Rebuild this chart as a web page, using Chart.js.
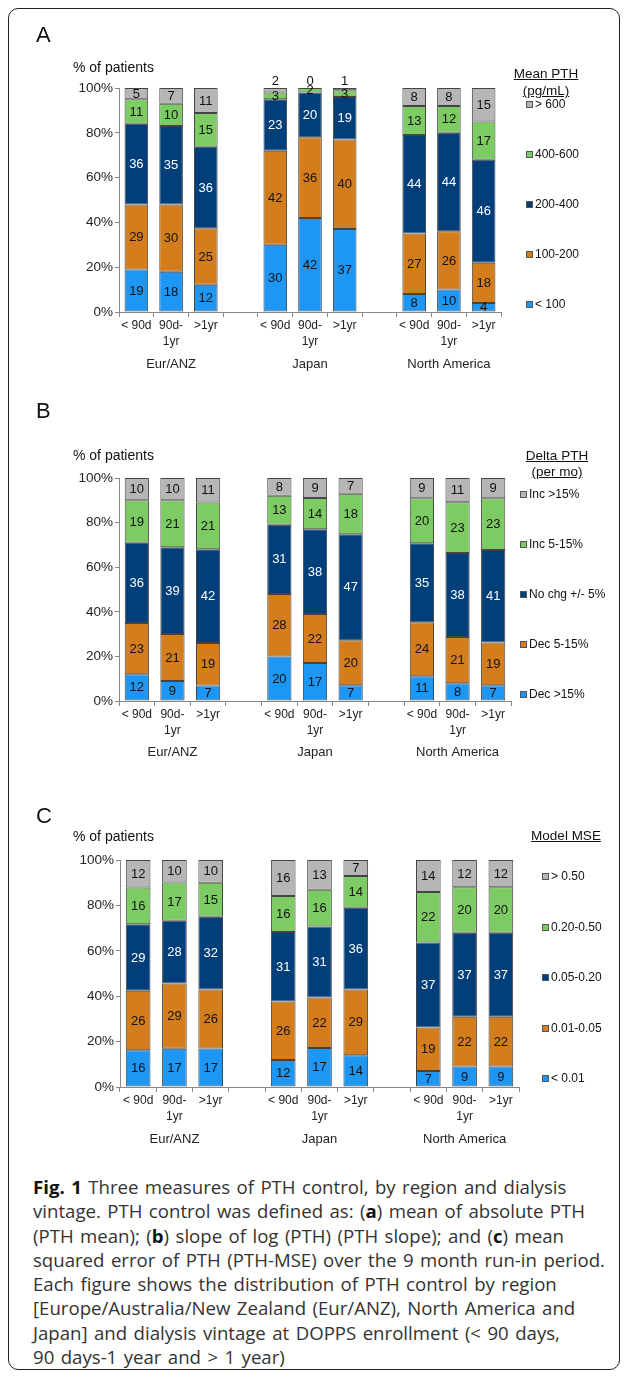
<!DOCTYPE html>
<html><head><meta charset="utf-8">
<script src="https://cdn.jsdelivr.net/npm/chart.js@4.4.0/dist/chart.umd.min.js"></script>
<style>
html,body{margin:0;padding:0;background:#fff;}
body{width:627px;height:1377px;position:relative;overflow:hidden;font-family:"Liberation Sans",Arial,sans-serif;color:#111;}
.frame{position:absolute;left:8px;top:8px;width:612px;height:1362px;border:1.4px solid #222;border-radius:10px;box-sizing:border-box;}
canvas{position:absolute;left:0;}
.t{position:absolute;white-space:nowrap;color:#111;}
.letter{font-size:22px;line-height:22px;}
.ylab{font-size:14px;line-height:14px;}
.lt{font-size:13.5px;line-height:16px;text-decoration:underline;text-align:center;transform:translateX(-50%);}
.li{font-size:12px;line-height:12px;}
.sw{display:inline-block;width:7px;height:7px;border:1px solid #555;margin-right:2px;vertical-align:0px;box-sizing:border-box;}
.cap{position:absolute;left:33px;width:585px;font-family:"Open Sans",sans-serif;font-size:17.5px;color:#333;word-spacing:1.6px;}
.cap div{height:24.3px;line-height:24.3px;text-align:left;white-space:nowrap;}
.cap b{color:#111;}
</style></head><body>
<div class="frame"></div>
<canvas id="cA" width="627" height="380" style="top:0px"></canvas>
<canvas id="cB" width="627" height="390" style="top:380px"></canvas>
<canvas id="cC" width="627" height="390" style="top:770px"></canvas>
<div id="overlay"></div>
<div class="cap" id="caption" style="top:1175px">
<div><b>Fig. 1</b> Three measures of PTH control, by region and dialysis</div>
<div>vintage. PTH control was defined as: (<b>a</b>) mean of absolute PTH</div>
<div>(PTH mean); (<b>b</b>) slope of log (PTH) (PTH slope); and (<b>c</b>) mean</div>
<div id="capRef">squared error of PTH (PTH-MSE) over the 9 month run-in period.</div>
<div>Each figure shows the distribution of PTH control by region</div>
<div>[Europe/Australia/New Zealand (Eur/ANZ), North America and</div>
<div>Japan] and dialysis vintage at DOPPS enrollment (&lt; 90 days,</div>
<div>90 days-1 year and &gt; 1 year)</div>
</div>
<script>
// ---------- DATA ----------
const regions = ['Eur/ANZ', 'Japan', 'North America'];
const vintages = [['< 90d'], ['90d-', '1yr'], ['>1yr']];
const yTicks = [0, 20, 40, 60, 80, 100];

// Panel A: Mean PTH (pg/mL) — per region: <90d, 90d-1yr, >1yr
const meanTitle = ['Mean PTH', '(pg/mL)'];
const meanLabels = ['< 100', '100-200', '200-400', '400-600', '> 600'];
const meanLt100   = [19, 18, 12, 30, 42, 37, 8, 10, 4];
const mean100_200 = [29, 30, 25, 42, 36, 40, 27, 26, 18];
const mean200_400 = [36, 35, 36, 23, 20, 19, 44, 44, 46];
const mean400_600 = [11, 10, 15, 3, 2, 3, 13, 12, 17];
const meanGt600   = [5, 7, 11, 2, 0, 1, 8, 8, 15];

// Panel B: Delta PTH (per mo)
const deltaTitle = ['Delta PTH', '(per mo)'];
const deltaLabels = ['Dec >15%', 'Dec 5-15%', 'No chg +/- 5%', 'Inc 5-15%', 'Inc >15%'];
const deltaDec15 = [12, 9, 7, 20, 17, 7, 11, 8, 7];
const deltaDec5  = [23, 21, 19, 28, 22, 20, 24, 21, 19];
const deltaNoChg = [36, 39, 42, 31, 38, 47, 35, 38, 41];
const deltaInc5  = [19, 21, 21, 13, 14, 18, 20, 23, 23];
const deltaInc15 = [10, 10, 11, 8, 9, 7, 9, 11, 9];

// Panel C: Model MSE
const mseTitle = ['Model MSE'];
const mseLabels = ['< 0.01', '0.01-0.05', '0.05-0.20', '0.20-0.50', '> 0.50'];
const mseLt001   = [16, 17, 17, 12, 17, 14, 7, 9, 9];
const mse001_005 = [26, 29, 26, 26, 22, 29, 19, 22, 22];
const mse005_020 = [29, 28, 32, 31, 31, 36, 37, 37, 37];
const mse020_050 = [16, 17, 15, 16, 16, 14, 22, 20, 20];
const mseGt050   = [12, 10, 10, 16, 13, 7, 14, 12, 12];

// ---------- STYLE ----------
const COLORS = ['#1e96f3', '#d47d1c', '#003f7a', '#7dcb63', '#b6b6b6'];
const FONT = '"Liberation Sans", Arial, sans-serif';

// caption: fit the longest line to the reference width
(function fitCaption() {
  const el = document.getElementById('capRef');
  const cap = document.getElementById('caption');
  const span = document.createElement('span');
  span.textContent = el.textContent;
  span.style.whiteSpace = 'nowrap';
  el.textContent = '';
  el.appendChild(span);
  const natural = span.getBoundingClientRect().width;
  if (natural > 0) cap.style.fontSize = (17.5 * 573 / natural).toFixed(2) + 'px';
})();

function withGaps(arr) {
  const out = [];
  for (let r = 0; r < regions.length; r++) {
    out.push(...arr.slice(r * 3, r * 3 + 3));
    if (r < regions.length - 1) out.push(null);
  }
  return out;
}
const catLabels = [];
const regionLabels = [];
regions.forEach((reg, r) => {
  vintages.forEach((v, k) => { catLabels.push(v); regionLabels.push(k === 1 ? reg : ''); });
  if (r < regions.length - 1) { catLabels.push(''); regionLabels.push(''); }
});

const segLabels = {
  id: 'segLabels',
  afterDatasetsDraw(chart) {
    const ctx = chart.ctx;
    ctx.save();
    ctx.font = '13px ' + FONT;
    ctx.textAlign = 'center';
    ctx.textBaseline = 'middle';
    const n = chart.data.datasets.length;
    chart.data.datasets.forEach((ds, i) => {
      const meta = chart.getDatasetMeta(i);
      meta.data.forEach((el, j) => {
        const raw = ds.rawValues[j];
        if (raw == null) return;
        const top = Math.min(el.y, el.base), bot = Math.max(el.y, el.base);
        let y = (top + bot) / 2;
        if (i === n - 1 && bot - top < 8) y = top - 7;
        ctx.fillStyle = i === 2 ? '#ffffff' : '#111111';
        ctx.fillText(String(raw), el.x, y + 0.5);
      });
    });
    ctx.restore();
  }
};

function makePanel(id, series, seriesLabels, g) {
  const raw = series.map(withGaps);
  const totals = raw[0].map((_, j) => raw.reduce((s, a) => s + (a[j] || 0), 0));
  const datasets = raw.map((a, i) => ({
    label: seriesLabels[i],
    data: a.map((v, j) => v == null ? null : v / totals[j] * 100),
    rawValues: a,
    backgroundColor: COLORS[i],
    borderColor: '#444444',
    borderWidth: 1,
    borderSkipped: false,
    barPercentage: 0.68,
    categoryPercentage: 1.0
  }));
  const canvas = document.getElementById(id);
  const H = canvas.height;
  return new Chart(canvas, {
    type: 'bar',
    data: { labels: catLabels, datasets },
    plugins: [segLabels],
    options: {
      responsive: false, animation: false, devicePixelRatio: 1,
      layout: { padding: { left: 0, top: g.top, right: 627 - g.right, bottom: H - g.bottom - 62 } },
      plugins: { legend: { display: false }, tooltip: { enabled: false }, title: { display: false } },
      scales: {
        x: {
          stacked: true, offset: true, weight: 1,
          grid: { display: true, drawOnChartArea: false, drawTicks: true, tickLength: 5, offset: true, color: '#888' },
          border: { display: true, color: '#888' },
          ticks: { font: { family: FONT, size: 12, lineHeight: 1.3 }, color: '#222', padding: 1, maxRotation: 0, autoSkip: false },
          afterFit: s => { s.height = 40; }
        },
        x2: {
          type: 'category', labels: regionLabels, position: 'bottom', offset: true, weight: 2,
          grid: { display: false, drawTicks: false },
          border: { display: false },
          ticks: { font: { family: FONT, size: 13 }, color: '#222', padding: g.regPad, maxRotation: 0, autoSkip: false },
          afterFit: s => { s.height = 22; }
        },
        y: {
          stacked: true, min: 0, max: 100,
          afterBuildTicks: s => { s.ticks = yTicks.map(v => ({ value: v })); },
          grid: { display: true, drawOnChartArea: false, drawTicks: true, tickLength: 4, color: '#888' },
          border: { display: true, color: '#888' },
          ticks: { font: { family: FONT, size: 13.5 }, color: '#222', padding: 2, callback: v => v + '%' },
          afterFit: s => { s.width = g.left; }
        }
      }
    }
  });
}

makePanel('cA', [meanLt100, mean100_200, mean200_400, mean400_600, meanGt600], meanLabels,
  { top: 88, bottom: 312, left: 119, right: 501, regPad: 5 });
makePanel('cB', [deltaDec15, deltaDec5, deltaNoChg, deltaInc5, deltaInc15], deltaLabels,
  { top: 98, bottom: 321, left: 119, right: 511, regPad: 4 });
makePanel('cC', [mseLt001, mse001_005, mse005_020, mse020_050, mseGt050], mseLabels,
  { top: 90, bottom: 317, left: 120, right: 519, regPad: 5 });

// ---------- TEXT OVERLAYS (panel letters, axis captions, legends) ----------
const ov = document.getElementById('overlay');
function txt(cls, html, x, y, extra) {
  const d = document.createElement('div');
  d.className = 't ' + cls;
  d.innerHTML = html;
  d.style.left = x + 'px';
  d.style.top = y + 'px';
  if (extra) Object.assign(d.style, extra);
  ov.appendChild(d);
  return d;
}
const panels = [
  { letter: 'A', ly: 35, py: 67, title: meanTitle, tx: 546, ty: [74, 91], labels: meanLabels, sx: 526, iy: [104, 154, 204, 254, 304] },
  { letter: 'B', ly: 411, py: 455, title: deltaTitle, tx: 557, ty: [456, 472], labels: deltaLabels, sx: 520, iy: [494, 544, 594, 644, 694] },
  { letter: 'C', ly: 816, py: 836, title: mseTitle, tx: 566, ty: [836], labels: mseLabels, sx: 542, iy: [876, 927, 977, 1028, 1078] }
];
panels.forEach(p => {
  txt('letter', p.letter, 36, p.ly - 11);
  txt('ylab', '% of patients', 73, p.py - 7);
  p.title.forEach((t, i) => txt('lt', t, p.tx, p.ty[i] - 8));
  for (let k = 0; k < p.labels.length; k++) {
    const si = p.labels.length - 1 - k;
    txt('li', '<span class="sw" style="background:' + COLORS[si] + '"></span>' + p.labels[si].replace(/</g, '&lt;').replace(/>/g, '&gt;'), p.sx, p.iy[k] - 6);
  }
});
</script>
</body></html>
